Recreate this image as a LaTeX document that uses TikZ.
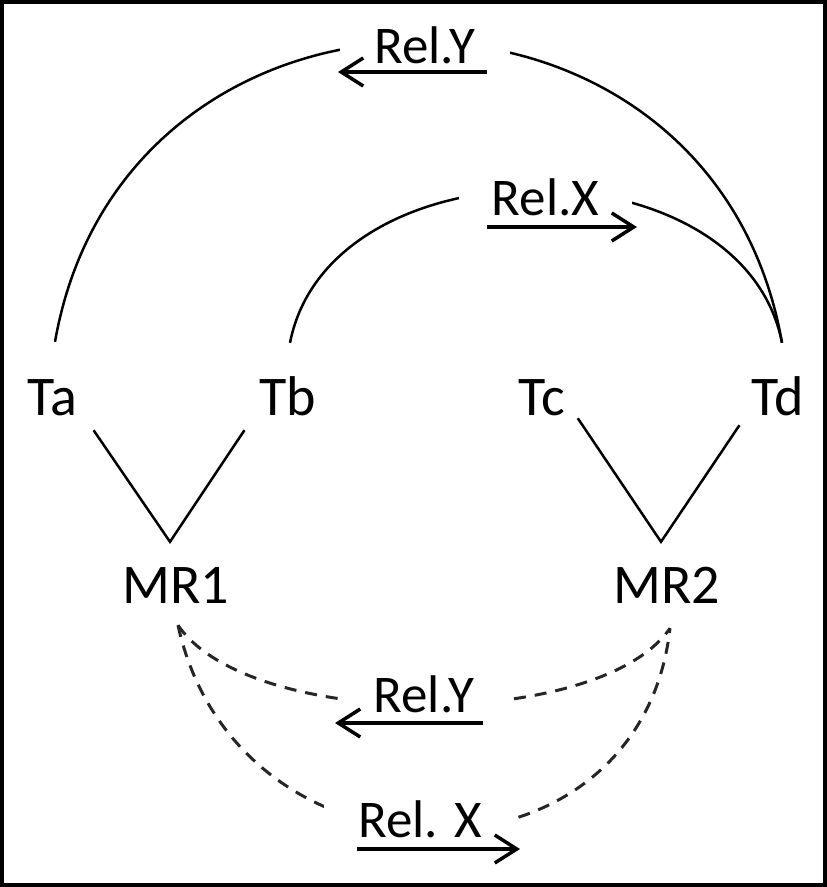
\documentclass[tikz,border=0pt]{standalone}
\usepackage{fontspec}
\setmainfont{Carlito}
\usetikzlibrary{arrows.meta}
\begin{document}
\begin{tikzpicture}[x=1pt,y=-1pt,
  term/.style={font=\fontsize{56}{60}\selectfont, inner sep=0pt, text height=38pt, text depth=0pt, anchor=base},
  rel/.style={font=\fontsize{53}{60}\selectfont, inner xsep=0pt, inner ysep=10pt, text height=36pt, text depth=0pt, anchor=base, fill=white},
  conn/.style={line width=2.5pt, black},
  dconn/.style={line width=3pt, black!85, dash pattern=on 12pt off 9pt},
  relarrow/.style={line width=3.5pt, -{Straight Barb[length=22pt,width=28pt]}}
]
\useasboundingbox (0,0) rectangle (827,887);
\draw[line width=4pt] (2,2) rectangle (825,885);

\node[term] (Ta) at (52,415) {Ta};
\node[term] (Tb) at (288,415) {Tb};
\node[term] (Tc) at (542,415) {Tc};
\node[term] (Td) at (778,415) {Td};
\node[term] (MR1) at (176,603) {MR1};
\node[term] (MR2) at (667,603) {MR2};

\draw[conn] ([shift={(3pt,35pt)}]Ta.north) .. controls (125,-58) and (712,-58) .. ([shift={(4pt,34pt)}]Td.north);
\draw[conn] ([shift={(2pt,34pt)}]Tb.north) .. controls (330,139) and (742,139) .. ([shift={(4pt,34pt)}]Td.north);
\draw[conn] ([shift={(16.5pt,-15pt)}]Ta.south east) -- ([shift={(-6pt,23pt)}]MR1.north) -- ([shift={(-15pt,-15pt)}]Tb.south west);
\draw[conn] ([shift={(12.5pt,-3pt)}]Tc.south east) -- ([shift={(-6pt,23pt)}]MR2.north) -- ([shift={(-12pt,-10pt)}]Td.south west);
\draw[dconn] ([shift={(2pt,-22pt)}]MR1.south) .. controls (250,731) and (600,731) .. ([shift={(3pt,-25pt)}]MR2.south);
\draw[dconn] ([shift={(2pt,-22pt)}]MR1.south) .. controls (238,898) and (640,898) .. ([shift={(3pt,-25pt)}]MR2.south);

\node[rel, minimum width=170pt] (ly1) at (424.5,63) {Rel.Y};
\node[rel, minimum width=173pt] (lx1) at (545.5,215) {Rel.X};
\node[rel, minimum width=168pt] (ly2) at (424,712) {Rel.Y};
\node[rel, minimum width=192pt] (lx2) at (420,837) {Rel. X};

\draw[relarrow] ([shift={(62.5pt,-9pt)}]ly1.base) -- ([shift={(-86.5pt,-9pt)}]ly1.base);
\draw[relarrow] ([shift={(-58.5pt,-12pt)}]lx1.base) -- ([shift={(91.5pt,-12pt)}]lx1.base);
\draw[relarrow] ([shift={(59pt,-11pt)}]ly2.base) -- ([shift={(-89pt,-11pt)}]ly2.base);
\draw[relarrow] ([shift={(-63pt,-12pt)}]lx2.base) -- ([shift={(100pt,-12pt)}]lx2.base);
\end{tikzpicture}
\end{document}
